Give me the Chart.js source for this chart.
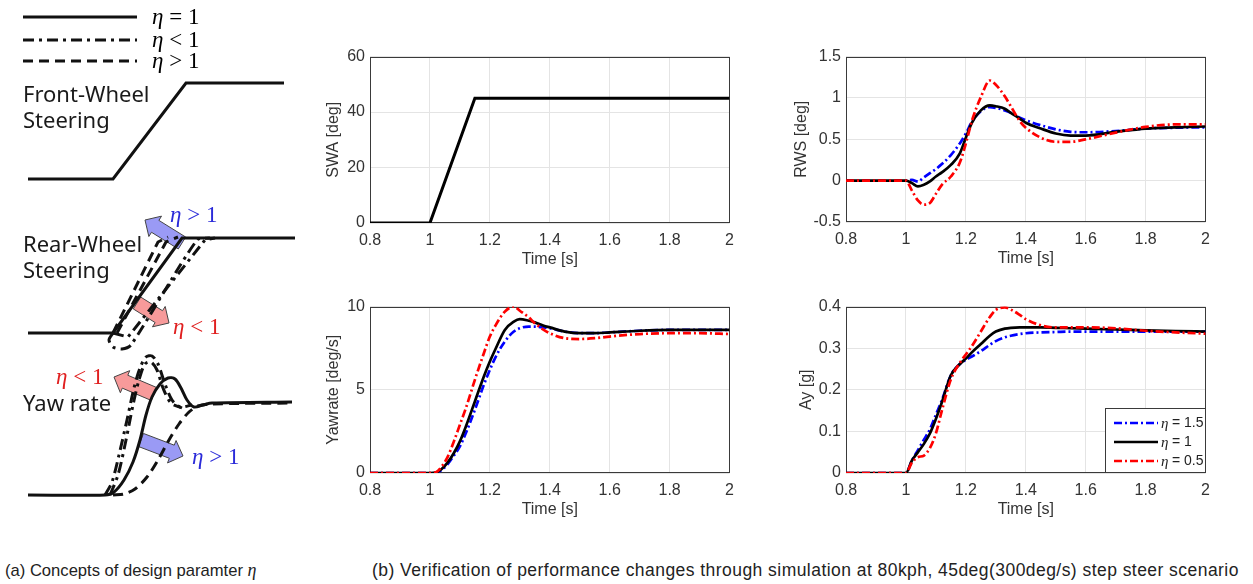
<!DOCTYPE html>
<html>
<head>
<meta charset="utf-8">
<script src="https://cdn.jsdelivr.net/npm/chart.js@4.4.0/dist/chart.umd.min.js"></script>
<style>
  body { margin: 0; background: #fff; width: 1253px; height: 584px; position: relative; overflow: hidden; font-family: "Liberation Sans", Arial, sans-serif; }
  canvas { position: absolute; }
  .lbl { position: absolute; font-family: "Noto Sans", sans-serif; font-size: 22px; line-height: 26px; color: #1a1a1a; }
  .eta { position: absolute; font-family: "Liberation Serif", serif; font-size: 23px; line-height: 24px; white-space: nowrap; }
  .eta i { font-style: italic; }
  .cap { position: absolute; top: 559px; font-size: 17.5px; line-height: 22px; color: #222; white-space: nowrap; }
  .cap i { font-family: "Liberation Serif", serif; font-size: 18px; }
</style>
</head>
<body>

<canvas id="concept" width="310" height="530" style="left:0;top:0"></canvas>
<canvas id="swaChart" width="422" height="231" style="left:320px;top:42px"></canvas>
<canvas id="rwsChart" width="430" height="230" style="left:788px;top:42px"></canvas>
<canvas id="yawChart" width="422" height="231" style="left:320px;top:292px"></canvas>
<canvas id="ayChart" width="425" height="231" style="left:793px;top:292px"></canvas>

<!-- teks panel (a) -->
<div class="eta" style="left:152px;top:5px"><i>η</i> = 1</div>
<div class="eta" style="left:152px;top:28px"><i>η</i> &lt; 1</div>
<div class="eta" style="left:152px;top:49px"><i>η</i> &gt; 1</div>
<div class="lbl" style="left:23px;top:80px">Front-Wheel<br>Steering</div>
<div class="lbl" style="left:23px;top:230px">Rear-Wheel<br>Steering</div>
<div class="lbl" style="left:23px;top:389px">Yaw rate</div>
<div class="eta" style="left:170px;top:203px;color:#2b2bd9"><i>η</i> &gt; 1</div>
<div class="eta" style="left:173px;top:315px;color:#e02020"><i>η</i> &lt; 1</div>
<div class="eta" style="left:56px;top:365px;color:#e02020"><i>η</i> &lt; 1</div>
<div class="eta" style="left:192px;top:445px;color:#2b2bd9"><i>η</i> &gt; 1</div>

<div class="cap" style="left:5px;font-size:16.6px">(a) Concepts of design paramter <i>η</i></div>
<div class="cap" style="left:372px;letter-spacing:0.45px">(b) Verification of performance changes through simulation at 80kph, 45deg(300deg/s) step steer scenario</div>

<script>
// === DATA: subplot (b) ===
const xTicks = [0.8, 1, 1.2, 1.4, 1.6, 1.8, 2];
const swaTicks = [0, 20, 40, 60];
const rwsTicks = [-0.5, 0, 0.5, 1, 1.5];
const yawTicks = [0, 5, 10];
const ayTicks = [0, 0.1, 0.2, 0.3, 0.4];

const swaTime = [0.8, 1, 1.15, 2];
const swaDeg = [0, 0, 45, 45];

const simTime = [0.8, 1, 1.02, 1.04, 1.06, 1.08, 1.1, 1.12, 1.15, 1.18, 1.2, 1.22, 1.25, 1.28, 1.3, 1.33, 1.35, 1.38, 1.4, 1.45, 1.5, 1.55, 1.6, 1.7, 1.8, 1.9, 2];

const rwsEta15 = [0, 0, 0.01, -0.01, 0.04, 0.09, 0.14, 0.2, 0.31, 0.45, 0.57, 0.71, 0.84, 0.89, 0.88, 0.85, 0.82, 0.76, 0.73, 0.67, 0.62, 0.59, 0.585, 0.6, 0.63, 0.64, 0.645];
const rwsEta1  = [0, 0, -0.03, -0.07, -0.05, -0.01, 0.05, 0.1, 0.19, 0.33, 0.52, 0.7, 0.85, 0.91, 0.9, 0.87, 0.82, 0.75, 0.7, 0.63, 0.57, 0.545, 0.545, 0.59, 0.63, 0.645, 0.655];
const rwsEta05 = [0, 0, -0.12, -0.24, -0.29, -0.27, -0.16, -0.05, 0.05, 0.22, 0.45, 0.72, 1.01, 1.21, 1.16, 1.02, 0.9, 0.72, 0.64, 0.52, 0.47, 0.47, 0.5, 0.58, 0.65, 0.68, 0.68];

const yawEta15 = [0, 0, 0.02, 0.2, 0.55, 1.05, 1.6, 2.4, 3.8, 5.3, 6.2, 7.0, 7.9, 8.5, 8.7, 8.8, 8.8, 8.75, 8.7, 8.5, 8.4, 8.4, 8.45, 8.55, 8.6, 8.6, 8.6];
const yawEta1  = [0, 0, 0.02, 0.25, 0.65, 1.2, 1.9, 2.8, 4.3, 5.8, 6.7, 7.5, 8.6, 9.1, 9.25, 9.15, 9.05, 8.85, 8.75, 8.5, 8.4, 8.4, 8.45, 8.55, 8.6, 8.6, 8.6];
const yawEta05 = [0, 0, 0.05, 0.4, 1.0, 1.9, 2.9, 3.9, 5.6, 7.2, 8.2, 8.9, 9.7, 10.0, 9.75, 9.35, 9.0, 8.6, 8.4, 8.1, 8.05, 8.1, 8.2, 8.35, 8.4, 8.4, 8.35];

const ayEta15 = [0, 0, 0.03, 0.055, 0.08, 0.105, 0.14, 0.175, 0.235, 0.262, 0.272, 0.28, 0.293, 0.308, 0.317, 0.326, 0.33, 0.334, 0.336, 0.338, 0.339, 0.34, 0.34, 0.34, 0.34, 0.34, 0.34];
const ayEta1  = [0, 0, 0.03, 0.05, 0.07, 0.095, 0.13, 0.17, 0.235, 0.262, 0.275, 0.29, 0.31, 0.33, 0.34, 0.347, 0.349, 0.35, 0.35, 0.35, 0.349, 0.348, 0.347, 0.345, 0.343, 0.341, 0.34];
const ayEta05 = [0, 0, 0.025, 0.038, 0.042, 0.06, 0.095, 0.15, 0.225, 0.265, 0.285, 0.305, 0.34, 0.375, 0.392, 0.398, 0.393, 0.38, 0.37, 0.355, 0.35, 0.35, 0.35, 0.348, 0.342, 0.338, 0.335];

const etaValues = ['1.5', '1', '0.5'];

// === DATA: konsep (a), koordinat sketsa ===
const keySolid   = [[23, 17], [137, 17]];
const keyDashDot = [[23, 40], [137, 40]];
const keyDashed  = [[23, 61], [137, 61]];
const fwsCurve   = [[28, 179], [113, 179], [186, 83], [284, 83]];

const rwsSolid    = [[28, 333], [113, 333], [182, 238], [295, 238]];
const rwsDashed1  = [[113, 333], [158, 242], [168, 237]];
const rwsDashed2  = [[117, 333], [166, 242], [178, 237]];
const rwsDashDot1 = [[113, 333], [109, 340], [113, 347], [122, 349], [131, 345], [197, 240], [210, 238]];
const rwsDashDot2 = [[113, 333], [128, 337], [205, 240], [215, 238]];

const yawSolid    = [[28, 495], [105, 495], [114, 492], [124, 480], [133, 462], [140, 440], [146, 415], [152, 397], [160, 384], [168, 378], [175, 379], [181, 388], [187, 400], [194, 407], [203, 405], [212, 403], [292, 402]];
const yawDashDot1 = [[105, 495], [112, 482], [119, 455], [127, 420], [134, 388], [140, 368], [146, 357], [152, 356], [158, 364], [165, 384], [172, 400], [180, 407], [192, 405]];
const yawDashDot2 = [[110, 495], [118, 475], [126, 440], [133, 405], [139, 380], [145, 364], [151, 362], [157, 370], [163, 388], [171, 403], [182, 408]];
const yawDashed   = [[113, 495], [124, 494], [135, 489], [147, 477], [158, 460], [169, 440], [179, 424], [189, 412], [198, 406], [210, 404], [292, 403]];

// panah: ekor -> ujung
const arrowTails = [[182, 243], [137, 303], [154, 394], [141, 440]];
const arrowTips  = [[145, 220], [169, 323], [114, 377], [183, 456]];
const arrowKinds = ['blue', 'red', 'red', 'blue'];

// === STYLE ===
const TXT = '#333';
const GRID = '#e4e4e4';
const seriesColors = ['#0000ff', '#000000', '#ff0000'];
const seriesDash = [[8, 3, 2, 3], [], [8, 3, 2, 3]];
const arrowFill = { blue: '#9a9af5', red: '#f79a9a' };

const pts = arr => arr.map(([x, y]) => ({ x, y }));
const zip = (xs, ys) => xs.map((x, i) => ({ x, y: ys[i] }));
const fmt = v => String(Math.round(v * 100) / 100);

// Bangun poligon panah dari ekor & ujung
function arrowPolygon(tail, tip) {
    const dx = tip[0] - tail[0], dy = tip[1] - tail[1];
    const len = Math.hypot(dx, dy);
    const ux = dx / len, uy = dy / len, nx = -uy, ny = ux;
    const bw = 7, hw = 12, hl = 12;
    const neck = [tip[0] - ux * hl, tip[1] - uy * hl];
    return [
        [tail[0] + nx * bw, tail[1] + ny * bw],
        [neck[0] + nx * bw, neck[1] + ny * bw],
        [neck[0] + nx * hw, neck[1] + ny * hw],
        tip,
        [neck[0] - nx * hw, neck[1] - ny * hw],
        [neck[0] - nx * bw, neck[1] - ny * bw],
        [tail[0] - nx * bw, tail[1] - ny * bw],
        [tail[0] + nx * bw, tail[1] + ny * bw]
    ];
}

// === PANEL (a) ===
function sketch(arr, dash, tension) {
    return {
        data: pts(arr), borderColor: '#111', borderWidth: 3, borderDash: dash,
        tension: tension || 0, pointRadius: 0, fill: false, order: 1
    };
}
const DASH = [10, 6];
const DASHDOT = [11, 5, 3, 5];

const conceptSets = [
    sketch(keySolid, []), sketch(keyDashDot, DASHDOT), sketch(keyDashed, DASH),
    sketch(fwsCurve, []),
    sketch(rwsSolid, []), sketch(rwsDashed1, DASH), sketch(rwsDashed2, DASH),
    sketch(rwsDashDot1, DASHDOT, 0.25), sketch(rwsDashDot2, DASHDOT),
    sketch(yawSolid, [], 0.3), sketch(yawDashDot1, DASHDOT, 0.3),
    sketch(yawDashDot2, DASHDOT, 0.3), sketch(yawDashed, DASH, 0.3)
];
arrowTails.forEach((t, i) => {
    conceptSets.push({
        data: pts(arrowPolygon(t, arrowTips[i])),
        borderColor: '#444', borderWidth: 1, backgroundColor: arrowFill[arrowKinds[i]],
        fill: 'shape', pointRadius: 0, tension: 0, order: 2
    });
});

new Chart(document.getElementById('concept'), {
    type: 'line',
    data: { datasets: conceptSets },
    options: {
        responsive: false, animation: false,
        layout: { padding: 0 },
        plugins: { legend: { display: false }, tooltip: { enabled: false } },
        scales: {
            x: { type: 'linear', min: 0, max: 310, display: false },
            y: { type: 'linear', min: 0, max: 530, reverse: true, display: false }
        }
    }
});

// === PANEL (b) ===
const frame = {
    id: 'frame',
    beforeDatasetsDraw(chart) {
        const { ctx, chartArea: a } = chart;
        ctx.save();
        ctx.strokeStyle = '#3a3a3a';
        ctx.lineWidth = 1;
        ctx.strokeRect(Math.round(a.left) + 0.5, Math.round(a.top) + 0.5, Math.round(a.width) - 1, Math.round(a.height) - 1);
        ctx.restore();
    }
};

const ayLegend = {
    id: 'ayLegend',
    afterDraw(chart) {
        const { ctx, chartArea: a } = chart;
        const w = 101, h = 65, x0 = Math.round(a.right) - w, y0 = Math.round(a.bottom) - h;
        ctx.save();
        ctx.fillStyle = '#fff';
        ctx.fillRect(x0, y0, w, h);
        ctx.strokeStyle = '#3a3a3a';
        ctx.lineWidth = 1;
        ctx.strokeRect(x0 + 0.5, y0 + 0.5, w - 1, h - 1);
        etaValues.forEach((val, i) => {
            const y = y0 + 15 + i * 19;
            ctx.strokeStyle = seriesColors[i];
            ctx.lineWidth = 2.7;
            ctx.setLineDash(seriesDash[i]);
            ctx.beginPath(); ctx.moveTo(x0 + 9, y); ctx.lineTo(x0 + 53, y); ctx.stroke();
            ctx.setLineDash([]);
            ctx.fillStyle = '#222';
            ctx.textBaseline = 'middle';
            ctx.font = 'italic 15px "Liberation Serif"';
            ctx.fillText('η', x0 + 56, y + 1);
            ctx.font = '14px "Liberation Sans"';
            ctx.fillText(' = ' + val, x0 + 63, y);
        });
        ctx.restore();
    }
};

function simSets(a, b, c) {
    return [a, b, c].map((ys, i) => ({
        data: zip(simTime, ys),
        borderColor: seriesColors[i], borderDash: seriesDash[i], borderWidth: 2.7,
        pointRadius: 0, fill: false, cubicInterpolationMode: 'monotone',
        order: 3 - i
    }));
}

function makePlot(id, datasets, yTitle, yTicks, yWidth, extra) {
    return new Chart(document.getElementById(id), {
        type: 'line',
        data: { datasets },
        options: {
            responsive: false, animation: false,
            layout: { padding: { top: 10, right: 10, left: 0, bottom: 0 } },
            plugins: { legend: { display: false }, tooltip: { enabled: false } },
            scales: {
                x: {
                    type: 'linear', min: 0.8, max: 2,
                    afterBuildTicks: s => { s.ticks = xTicks.map(v => ({ value: v })); },
                    afterFit: s => { s.height = 50; },
                    grid: { color: GRID, drawTicks: false },
                    border: { display: false },
                    ticks: { padding: 8, color: TXT, font: { size: 16 }, maxRotation: 0, autoSkip: false, callback: fmt },
                    title: { display: true, text: 'Time [s]', color: TXT, font: { size: 16 }, padding: 4 }
                },
                y: {
                    type: 'linear', min: yTicks[0], max: yTicks[yTicks.length - 1],
                    afterBuildTicks: s => { s.ticks = yTicks.map(v => ({ value: v })); },
                    afterFit: s => { s.width = yWidth; },
                    grid: { color: GRID, drawTicks: false },
                    border: { display: false },
                    ticks: { padding: 5, color: TXT, font: { size: 16 }, autoSkip: false, callback: fmt },
                    title: { display: true, text: yTitle, color: TXT, font: { size: 16 }, padding: 4 }
                }
            }
        },
        plugins: [frame].concat(extra || [])
    });
}

makePlot('swaChart', [{
    data: zip(swaTime, swaDeg), borderColor: '#000', borderWidth: 3, pointRadius: 0, fill: false, tension: 0
}], 'SWA [deg]', swaTicks, 50);

makePlot('rwsChart', simSets(rwsEta15, rwsEta1, rwsEta05), 'RWS [deg]', rwsTicks, 58);
makePlot('yawChart', simSets(yawEta15, yawEta1, yawEta05), 'Yawrate [deg/s]', yawTicks, 50);
makePlot('ayChart', simSets(ayEta15, ayEta1, ayEta05), 'Ay [g]', ayTicks, 53, [ayLegend]);
</script>
</body>
</html>
